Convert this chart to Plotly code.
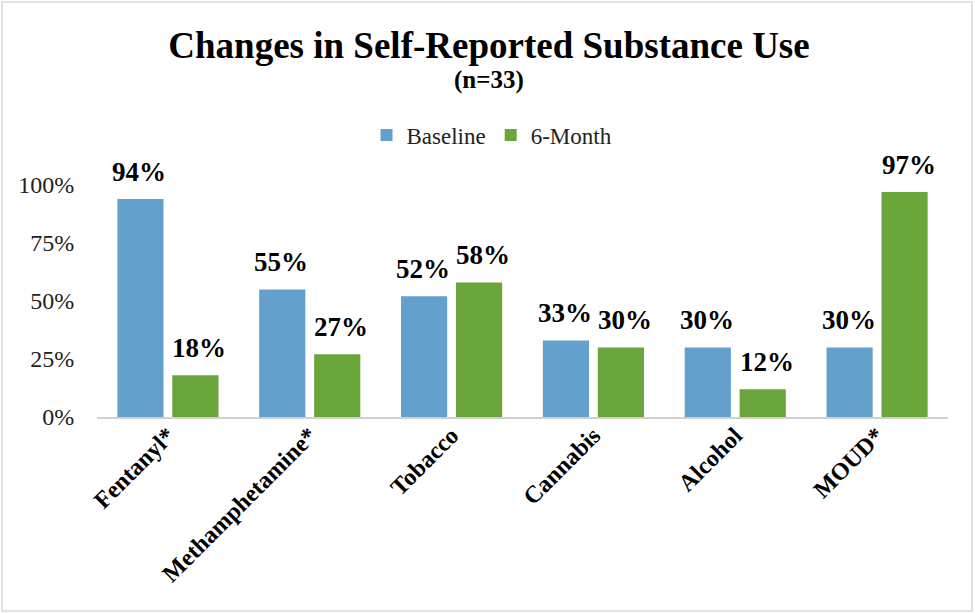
import plotly.graph_objects as go

categories = ["Fentanyl*", "Methamphetamine*", "Tobacco", "Cannabis", "Alcohol", "MOUD*"]
baseline = [0.94, 0.55, 0.52, 0.33, 0.30, 0.30]
six_month = [0.18, 0.27, 0.58, 0.30, 0.12, 0.97]
tick_vals = [0, 0.25, 0.5, 0.75, 1.0]
tick_text = ["0%", "25%", "50%", "75%", "100%"]

W, H = 975, 613
L, R, T, B = 97, 948, 185, 417
pw, ph = R - L, B - T

def px(x):
    return (x - L) / pw

def py(y):
    return (B - y) / ph

serif = "Liberation Serif, Times New Roman, serif"
BARGAP = 0.225
slot = (1 - BARGAP) / 2

fig = go.Figure()
fig.add_trace(go.Bar(
    name="Baseline", x=categories, y=baseline,
    marker=dict(color="#64a0cc", line=dict(width=0)),
))
fig.add_trace(go.Bar(
    name="6-Month", x=categories, y=six_month,
    marker=dict(color="#6aa53b", line=dict(width=0)),
))

annotations = []
for series, off, dx in ((baseline, -slot / 2, -1), (six_month, slot / 2, 4)):
    for i, v in enumerate(series):
        annotations.append(dict(
            text=f"<b>{round(v * 100)}%</b>", xref="x", yref="y",
            x=i + off, y=v, xanchor="center", yanchor="bottom", yshift=10, xshift=dx,
            showarrow=False, font=dict(family=serif, size=27, color="black"),
        ))
annotations.append(dict(
    text="<b>(n=33)</b>", xref="paper", yref="paper",
    x=px(489), y=py(80), xanchor="center", yanchor="middle",
    showarrow=False, font=dict(family=serif, size=25, color="black"),
))

fig.update_layout(
    width=W, height=H,
    margin=dict(l=L, r=W - R, t=T, b=H - B),
    paper_bgcolor="white", plot_bgcolor="white",
    barmode="group", bargap=BARGAP, bargroupgap=0.16,
    font=dict(family=serif, color="black"),
    title=dict(
        text="<b>Changes in Self-Reported Substance Use</b>",
        x=px(489), xref="paper", xanchor="center", y=1 - 45 / H, yanchor="middle",
        font=dict(family=serif, size=37, color="black"),
    ),
    legend=dict(
        orientation="h", x=px(492), xanchor="center", y=py(135), yanchor="middle",
        font=dict(family=serif, size=23, color="#222"),
        itemwidth=30, tracegroupgap=0,
    ),
    xaxis=dict(
        showgrid=False, showline=True, linecolor="#d0d0d0", linewidth=2,
        tickangle=-45, ticks="", ticklabelstandoff=-7,
        tickfont=dict(family=serif, size=24, color="black"),
        tickprefix="<b>", ticksuffix="</b>",
    ),
    yaxis=dict(
        range=[0, 1.0], tickvals=tick_vals, ticktext=tick_text,
        showgrid=False, zeroline=False, showline=False,
        ticks="outside", ticklen=17, tickcolor="rgba(0,0,0,0)",
        tickfont=dict(family=serif, size=24, color="#222"),
    ),
    annotations=annotations,
    shapes=[dict(
        type="rect", xref="paper", yref="paper",
        x0=px(2), x1=px(972), y0=py(611), y1=py(2),
        line=dict(color="#d9d9d9", width=1.5), layer="below",
    )],
)

fig.write_html("out.html", config={"displayModeBar": False},
               post_script="document.body.style.margin='0';")
